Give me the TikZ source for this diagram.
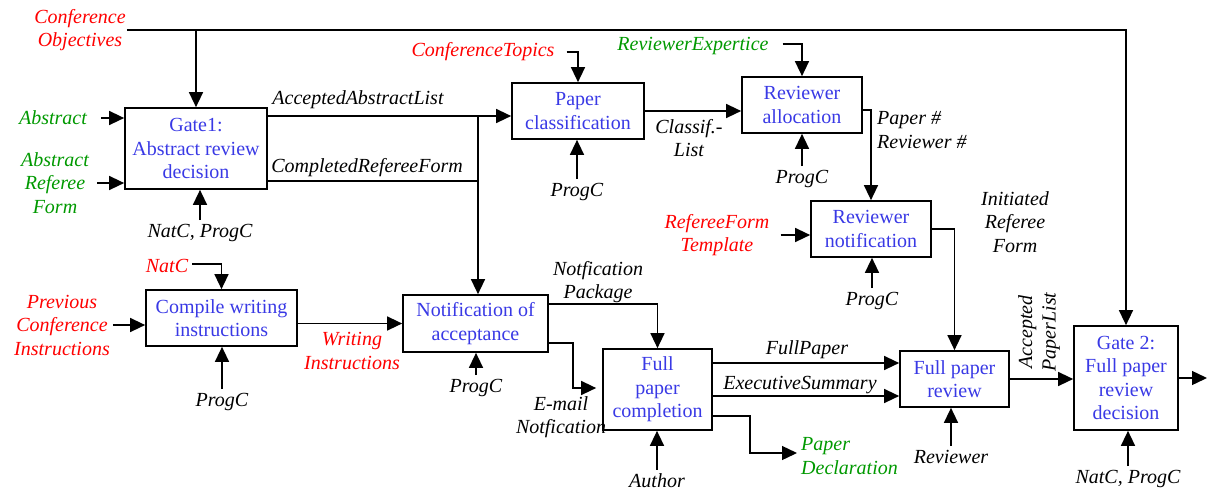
\documentclass[tikz,border=0pt]{standalone}
\usepackage{fontspec}
\setmainfont{Liberation Serif}
\usetikzlibrary{arrows.meta}

\begin{document}
\begin{tikzpicture}[x=1pt,y=-1pt,
% Styles
process/.style={draw,line width=1.7pt,text=proccolor,align=center,inner sep=2pt,font=\diagfont},
flow/.style={line width=1.4pt,-{Triangle[length=15pt,width=14pt]}},
flow line/.style={line width=1.4pt},
label text/.style={font=\diagfont\itshape,align=center,inner sep=1pt}]
% Local definitions
\def\diagfont{\fontsize{20}{23.5}\selectfont}
% Colors
\colorlet{proccolor}{blue!75!white!90!black}
\colorlet{inputred}{red}
\colorlet{inputgreen}{green!60!black}
\useasboundingbox (0,0) rectangle (1208,491);
% Processes
\node[process,minimum width=142pt,minimum height=81pt] (gate1) at (196,148.5) {Gate1:\\Abstract review\\decision};
\node[process,minimum width=132pt,minimum height=56pt] (classify) at (578,111) {Paper\\classification};
\node[process,minimum width=120pt,minimum height=56pt] (allocate) at (802,105) {Reviewer\\allocation};
\node[process,minimum width=120pt,minimum height=56pt] (notify) at (871,229) {Reviewer\\notification};
\node[process,minimum width=151pt,minimum height=56pt] (compile) at (221.5,318) {Compile writing\\instructions};
\node[process,minimum width=145pt,minimum height=57pt] (accept) at (475.5,323.5) {Notification of\\acceptance};
\node[process,minimum width=109pt,minimum height=81pt] (complete) at (657.5,389.5) {Full\\paper\\completion};
\node[process,minimum width=109pt,minimum height=56pt] (review) at (954.5,379) {Full paper\\review};
\node[process,minimum width=104pt,minimum height=104pt] (gate2) at (1126,378) {Gate 2:\\Full paper\\review\\decision};
% Labels
\node[label text,text=inputred] (objectives) at (80,30) {Conference\\Objectives};
\node[label text,text=inputgreen] (abstract) at (53,118) {Abstract};
\node[label text,text=inputgreen] (refform) at (55,183) {Abstract\\Referee\\Form};
\node[label text] (gate1 ctrl) at (200,233) {NatC, ProgC};
\node[label text] (accepted list) at (358,100) {AcceptedAbstractList};
\node[label text] (completed form) at (367,168) {CompletedRefereeForm};
\node[label text,text=inputred] (topics) at (483,52) {ConferenceTopics};
\node[label text,text=inputgreen] (expertise) at (693,46) {ReviewerExpertice};
\node[label text] (classify ctrl) at (577,192) {ProgC};
\node[label text] (classif list) at (689,138) {Classif.-\\List};
\node[label text] (allocate ctrl) at (802,179) {ProgC};
\node[label text,anchor=west,align=left] (numbers) at (876,130) {Paper \#\\Reviewer \#};
\node[label text,text=inputred] (template) at (717,235) {RefereeForm\\Template};
\node[label text] (notify ctrl) at (872,301) {ProgC};
\node[label text] (initiated) at (1015,222) {Initiated\\Referee\\Form};
\node[label text,text=inputred] (natc) at (167,266) {NatC};
\node[label text,text=inputred] (previous) at (62,325) {Previous\\Conference\\Instructions};
\node[label text] (compile ctrl) at (222,402) {ProgC};
\node[label text,text=inputred] (writing) at (352,351) {Writing\\Instructions};
\node[label text] (accept ctrl) at (476,388) {ProgC};
\node[label text] (package) at (598,282) {Notfication\\Package};
\node[label text] (email) at (561,417) {E-mail\\Notfication};
\node[label text] (fullpaper) at (807,350) {FullPaper};
\node[label text] (summary) at (800,385) {ExecutiveSummary};
\node[label text] (author) at (657,481) {Author};
\node[label text,text=inputgreen,anchor=west,align=left] (declaration) at (800,456) {Paper\\Declaration};
\node[label text] (reviewer) at (951,457) {Reviewer};
\node[label text,rotate=90] (paperlist) at (1039,332) {Accepted\\PaperList};
\node[label text] (gate2 ctrl) at (1128,479) {NatC, ProgC};
% Mechanisms from below
\foreach \c/\p in {gate1 ctrl/gate1, classify ctrl/classify, allocate ctrl/allocate, notify ctrl/notify,
    compile ctrl/compile, accept ctrl/accept, author/complete, reviewer/review, gate2 ctrl/gate2}
    \draw[flow] ([yshift=3pt]\c.north) -- (\c.north |- \p.south);
% Inputs
\draw[flow] ([xshift=13pt]abstract.east) -- (abstract.east -| gate1.west);
\draw[flow] ([xshift=7pt]refform.east) -- (refform.east -| gate1.west);
\draw[flow] ([xshift=2pt]previous.east) -- (previous.east -| compile.west);
\draw[flow] ([xshift=10pt]template.east) -- (template.east -| notify.west);
\draw[flow] ([xshift=11pt]topics.east) -| (classify.north);
\draw[flow] ([xshift=13pt,yshift=2pt]expertise.east) -| (allocate.north);
\draw[flow] ([xshift=3pt,yshift=2pt]natc.east) -| (compile.north);
\draw[flow] (objectives.east) -| (gate2.north);
\draw[flow] (objectives.east -| gate1.north) -- (gate1.north);
% Flows between processes
\coordinate (merge) at (478,116);
\coordinate (form join) at (478,181);
\draw[flow] (gate1.east |- merge) -- (classify.west |- merge);
\draw[flow line] (gate1.east |- form join) -- (form join);
\draw[flow] (merge) -- (merge |- accept.north);
\draw[flow] (classify.east) -- (classify.east -| allocate.west);
\draw[flow] ([yshift=-5pt]allocate.east) -| (notify.north);
\draw[flow] (notify.east) -| (review.north);
\draw[flow] (compile.east |- accept.west) -- (accept.west);
\draw[flow] ([yshift=19.5pt]accept.east) -| (complete.north);
\coordinate (email bend) at (573,388);
\draw[flow] ([yshift=-19.5pt]accept.east) -| (email bend) -- ([xshift=-6pt]complete.west |- email bend);
\draw[flow] ([yshift=26.5pt]complete.east) -- ([yshift=26.5pt]complete.east -| review.west);
\draw[flow] ([yshift=-6.5pt]complete.east) -- ([yshift=-6.5pt]complete.east -| review.west);
\coordinate (declaration bend) at (750,453);
\draw[flow] ([yshift=-26.5pt]complete.east) -| (declaration bend) -- ([xshift=-3pt]declaration bend -| declaration.west);
\draw[flow] (review.east) -- (review.east -| gate2.west);
\coordinate (decision out) at (1207,378);
\draw[flow] (gate2.east) -- (decision out);
\end{tikzpicture}
\end{document}
